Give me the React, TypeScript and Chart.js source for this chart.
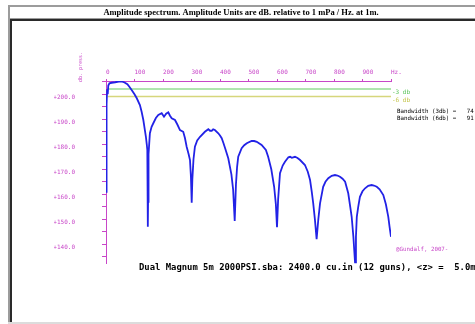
import { useEffect, useRef } from 'react';
import { Chart, registerables } from 'chart.js';

Chart.register(...registerables);

// ---- data ----
const freqHz = [
  0, 1, 2, 3, 4, 6, 8, 12, 20, 32, 45, 55, 65, 75, 82, 90, 100, 108, 119, 125, 131, 136, 140, 143, 145, 146, 147, 147.3, 147.6, 148.5, 150, 154,
  160, 166, 175, 183.5, 195.4, 203.5, 211, 218.6, 224, 230.5, 242, 250, 259.6, 271, 277, 283, 290, 294.7, 298, 300.7, 303, 307,
  312, 320, 330, 347, 359, 365, 371, 376, 382, 394, 400, 406, 412, 418, 429, 440, 446, 451.6, 456, 460,
  464, 476, 485, 494, 511, 520, 529, 546, 561, 569, 580, 590, 596, 600, 604, 610.5,
  620, 628, 640, 646, 652, 663, 672, 681, 698, 708, 716, 722, 727, 733, 739, 745, 751,
  762, 770, 780, 792, 803.5, 812, 821, 830, 839, 850, 857, 862, 868, 874, 877, 880,
  885, 891, 900, 909, 920, 932, 940, 950, 960, 973, 982, 990.5, 995, 1000,
];
const levelDb = [
  161, 190, 199, 196, 202, 200, 203.5, 204.4, 204.6, 204.8, 205.1, 205.1, 204.7, 204, 203, 201.7, 200, 198.4, 195.7, 193, 189.7, 186, 183, 180, 177.7, 168, 157, 147, 157, 166, 176, 184.4,
  187, 188.4, 190.5, 191.7, 192.4, 191, 192.2, 192.8, 191.5, 190.4, 189.7, 188, 185.7, 185, 182.5, 179, 176, 173.7, 167, 156.6, 166, 174,
  179, 181.5, 183, 185, 186, 185.4, 185.4, 186, 185.7, 184.4, 183.5, 182.4, 180.5, 178.4, 174.4, 168, 162, 149.3, 164, 171,
  175, 178.4, 179.6, 180.4, 181.3, 181.3, 181, 179.7, 177.7, 175, 170, 163, 156, 146.8, 158, 168.4,
  171.5, 173, 174.8, 175, 174.6, 175, 174.5, 173.7, 171.7, 169, 165.7, 161, 156.5, 150, 142, 150, 156.4,
  163, 165, 166.4, 167.4, 167.7, 167.5, 167, 166.2, 165, 160.4, 155, 151, 143, 132.4, 143, 151,
  155, 159, 161.2, 162.4, 163.4, 163.7, 163.5, 163, 162, 159.7, 156, 151, 147, 143,
];
const peakDb = 205.1;
const refOffsetsDb = [-3, -6];
const refLabels = ['-3 db', '-6 db'];
const refStartHz = 6;
const xMinHz = 0;
const xMaxHz = 1000;
const xStepHz = 100;
const yMinDb = 132.4;
const yMaxDb = 205.3;
const yStepDb = 5;
const yLabelEveryDb = 10;
const xEndLabel = 'Hz.';
const yAxisTitle = 'db. press.';
const titleText = 'Amplitude spectrum. Amplitude Units are dB. relative to 1 mPa / Hz. at 1m.';
const bandwidthLines = ['Bandwidth (3db) =   74.', 'Bandwidth (6db) =   91.'];
const creditText = '@Gundalf, 2007-';
const footerText = 'Dual Magnum 5m 2000PSI.sba: 2400.0 cu.in (12 guns), <z> =  5.0m';

// ---- styles ----
const MAGENTA = '#c846c8';
const BLUE = '#2222e6';
const REF_LINE_COLORS = ['#94dc94', '#d6d67c'];
const REF_TEXT_COLORS = ['#5cc45c', '#c4c448'];
const MONO = '"DejaVu Sans Mono", monospace';

const decorPlugin = {
  id: 'decor',
  beforeDraw(chart: any) {
    const { ctx, width, height } = chart;
    ctx.save();
    ctx.fillStyle = '#ffffff';
    ctx.fillRect(0, 0, width, height);
    // title bar frame
    ctx.fillStyle = '#9c9c9c';
    ctx.fillRect(8, 5, width - 8, 2);
    ctx.fillRect(8, 5, 2, height - 5);
    ctx.fillRect(10, 18, width - 10, 1);
    // main panel frame
    ctx.fillStyle = '#2a2a2a';
    ctx.fillRect(10, 19, width - 10, 2);
    ctx.fillRect(10, 19, 2, 303);
    ctx.fillStyle = '#dcdcdc';
    ctx.fillRect(8, 322, width - 8, 2);
    // title
    ctx.fillStyle = '#000';
    ctx.font = 'bold 8.5px "Liberation Serif", serif';
    ctx.textAlign = 'center';
    ctx.textBaseline = 'middle';
    ctx.fillText(titleText, 241, 12.5);
    ctx.restore();
  },
  afterDraw(chart: any) {
    const { ctx, chartArea } = chart;
    const xs = chart.scales.x;
    const ys = chart.scales.y;
    ctx.save();
    ctx.textBaseline = 'middle';
    // y axis title, rotated
    ctx.save();
    ctx.translate(chartArea.left - 25, chartArea.top + 1);
    ctx.rotate(-Math.PI / 2);
    ctx.fillStyle = MAGENTA;
    ctx.font = `5px ${MONO}`;
    ctx.textAlign = 'left';
    ctx.fillText(yAxisTitle, 0, 0);
    ctx.restore();
    // reference labels
    ctx.font = `6px ${MONO}`;
    ctx.textAlign = 'left';
    refOffsetsDb.forEach((off, i) => {
      ctx.fillStyle = REF_TEXT_COLORS[i];
      ctx.fillText(refLabels[i], xs.getPixelForValue(xMaxHz) + 1, ys.getPixelForValue(peakDb + off) + 3.5);
    });
    // bandwidth text
    ctx.fillStyle = '#000';
    ctx.font = `5.8px ${MONO}`;
    bandwidthLines.forEach((t, i) => {
      ctx.fillText(t, chartArea.right + 6, 111 + i * 7.3);
    });
    // credit
    ctx.fillStyle = MAGENTA;
    ctx.font = `5.8px ${MONO}`;
    ctx.fillText(creditText, chartArea.right + 5, 249);
    // footer
    ctx.fillStyle = '#000';
    ctx.font = `bold 8.9px ${MONO}`;
    ctx.fillText(footerText, 139, 268);
    ctx.restore();
  },
};

export default function App() {
  const ref = useRef<HTMLCanvasElement | null>(null);

  useEffect(() => {
    if (!ref.current) return;
    const curve = freqHz.map((f, i) => ({ x: f, y: levelDb[i] }));
    const refSets = refOffsetsDb.map((off, i) => ({
      data: [
        { x: refStartHz, y: peakDb + off },
        { x: xMaxHz, y: peakDb + off },
      ],
      borderColor: REF_LINE_COLORS[i],
      borderWidth: 1.5,
      pointRadius: 0,
    }));
    const chart = new Chart(ref.current, {
      type: 'line',
      data: {
        datasets: [
          { data: curve, borderColor: BLUE, borderWidth: 1.8, pointRadius: 0, tension: 0 },
          ...refSets,
        ],
      },
      options: {
        animation: false,
        responsive: false,
        events: [],
        layout: { padding: { left: 54, top: 61, right: 84, bottom: 60.7 } },
        plugins: { legend: { display: false }, tooltip: { enabled: false }, title: { display: false } },
        scales: {
          x: {
            type: 'linear',
            position: 'top',
            min: xMinHz,
            max: xMaxHz,
            afterFit: (s: any) => {
              s.height = 20;
            },
            border: { color: MAGENTA, width: 1 },
            grid: { drawOnChartArea: false, color: MAGENTA, tickColor: MAGENTA, tickLength: 2 },
            ticks: {
              stepSize: xStepHz,
              autoSkip: false,
              maxRotation: 0,
              align: 'start',
              padding: 3,
              color: MAGENTA,
              font: { family: 'DejaVu Sans Mono', size: 6 },
              callback: (v: any) => (Number(v) === xMaxHz ? xEndLabel : String(v)),
            },
          },
          y: {
            type: 'linear',
            position: 'left',
            min: yMinDb,
            max: yMaxDb,
            afterFit: (s: any) => {
              s.width = 52;
            },
            border: { color: MAGENTA, width: 1 },
            grid: { drawOnChartArea: false, color: MAGENTA, tickColor: MAGENTA, tickLength: 4 },
            ticks: {
              stepSize: yStepDb,
              includeBounds: false,
              autoSkip: false,
              padding: 27,
              labelOffset: 3,
              color: MAGENTA,
              font: { family: 'DejaVu Sans Mono', size: 6 },
              callback: (v: any) => (Math.abs(Number(v) % yLabelEveryDb) < 1e-6 ? '+' + Number(v).toFixed(1) : ''),
            },
          },
        },
      } as any,
      plugins: [decorPlugin],
    });
    return () => chart.destroy();
  }, []);

  return (
    <div style={{ position: 'fixed', left: 0, top: 0, width: 475, height: 324 }}>
      <canvas ref={ref} width={475} height={324} style={{ display: 'block', width: 475, height: 324 }} />
    </div>
  );
}
